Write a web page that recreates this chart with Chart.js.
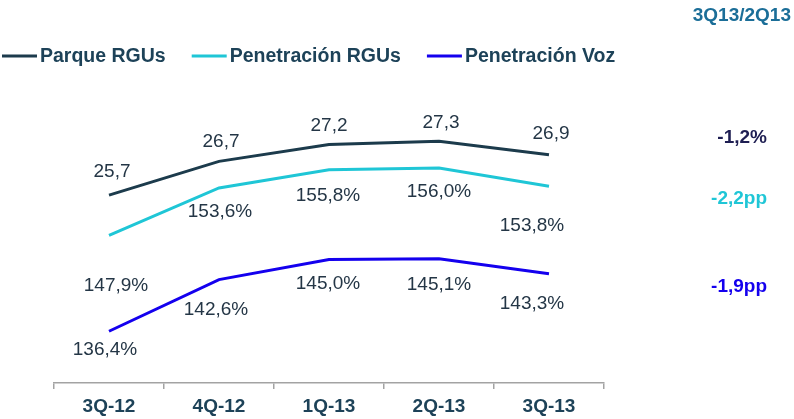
<!DOCTYPE html>
<html>
<head>
<meta charset="utf-8">
<script src="https://cdn.jsdelivr.net/npm/chart.js@4"></script>
<style>
  html, body { margin: 0; padding: 0; background: #ffffff; }
  #wrap { width: 794px; height: 419px; position: relative; }
</style>
</head>
<body>
<div id="wrap"><canvas id="c" width="794" height="419"></canvas></div>
<script>
// ---- data ----
const categories = ['3Q-12', '4Q-12', '1Q-13', '2Q-13', '3Q-13'];
const parqueRGUs = [25.7, 26.7, 27.2, 27.3, 26.9];
const penetracionRGUs = [147.9, 153.6, 155.8, 156.0, 153.8];
const penetracionVoz = [136.4, 142.6, 145.0, 145.1, 143.3];
const seriesNames = ['Parque RGUs', 'Penetración RGUs', 'Penetración Voz'];
const seriesSuffix = ['', '%', '%'];
const variationHeader = '3Q13/2Q13';
const variations = ['-1,2%', '-2,2pp', '-1,9pp'];

// ---- styles ----
const colors = ['#1c3b4c', '#1fc6d6', '#1400ee'];
const variationColors = ['#1e1e52', '#1fc6d6', '#1400ee'];
const textDark = '#243646';
const legendText = '#1d4258';
const FONT = '"Liberation Sans", Arial, sans-serif';
// label offsets (dx, dy) relative to each point
const labelOffsets = [
  [[3, -23], [2, -20], [0, -19], [2, -18], [2, -21]],
  [[7, 50], [1, 24], [-1, 26], [0, 24], [-17, 39]],
  [[-4, 19], [-3, 30], [-1, 24], [0, 26], [-17, 30]]
];
const variationY = [138, 199, 287];

const fmt = (v, s) => v.toFixed(1).replace('.', ',') + s;

const labelsPlugin = {
  id: 'labelsPlugin',
  afterDatasetsDraw(chart) {
    const ctx = chart.ctx;
    ctx.save();
    ctx.font = '19px ' + FONT;
    ctx.fillStyle = textDark;
    ctx.textAlign = 'center';
    ctx.textBaseline = 'middle';
    chart.data.datasets.forEach((ds, di) => {
      const meta = chart.getDatasetMeta(di);
      meta.data.forEach((pt, i) => {
        const o = labelOffsets[di][i];
        ctx.fillText(fmt(ds.data[i], seriesSuffix[di]), pt.x + o[0], pt.y + o[1]);
      });
    });
    ctx.restore();
  },
  afterDraw(chart) {
    const ctx = chart.ctx;
    ctx.save();
    // legend
    ctx.font = 'bold 19.5px ' + FONT;
    ctx.textBaseline = 'middle';
    ctx.textAlign = 'left';
    let x = 2;
    seriesNames.forEach((n, i) => {
      ctx.fillStyle = colors[i];
      ctx.fillRect(x, 54.5, 35, 3);
      ctx.fillStyle = legendText;
      ctx.fillText(n, x + 38, 57);
      x += 38 + ctx.measureText(n).width + 26;
    });
    // header & variations
    ctx.font = 'bold 19px ' + FONT;
    ctx.textAlign = 'right';
    ctx.fillStyle = '#1b6e98';
    ctx.fillText(variationHeader, 791, 16);
    variations.forEach((t, i) => {
      ctx.fillStyle = variationColors[i];
      ctx.fillText(t, 767, variationY[i]);
    });
    ctx.restore();
  }
};

new Chart(document.getElementById('c'), {
  type: 'line',
  data: {
    labels: categories,
    datasets: [
      { label: seriesNames[0], data: parqueRGUs, yAxisID: 'yP', borderColor: colors[0] },
      { label: seriesNames[1], data: penetracionRGUs, yAxisID: 'yR', borderColor: colors[1] },
      { label: seriesNames[2], data: penetracionVoz, yAxisID: 'yR', borderColor: colors[2] }
    ]
  },
  options: {
    responsive: false,
    animation: false,
    layout: { padding: { top: 100, left: 0, right: 0, bottom: 0 } },
    elements: {
      line: { borderWidth: 3, tension: 0, fill: false, borderCapStyle: 'butt' },
      point: { radius: 0, hoverRadius: 0 }
    },
    plugins: { legend: { display: false }, tooltip: { enabled: false } },
    scales: {
      x: {
        type: 'category',
        offset: true,
        grid: { display: true, drawOnChartArea: false, drawTicks: true, tickLength: 6, color: '#a3a3a3', lineWidth: 1.5, offset: true },
        border: { display: true, color: '#a3a3a3', width: 1.5 },
        ticks: { color: legendText, font: { family: FONT, size: 19, weight: 'bold' }, padding: 6, maxRotation: 0 },
        afterFit(s) { s.height = 36; }
      },
      yP: {
        position: 'left',
        min: 20.13, max: 28.52,
        grid: { display: false },
        border: { display: false },
        ticks: { display: false },
        afterFit(s) { s.width = 54; }
      },
      yR: {
        position: 'right',
        min: 130.19, max: 164.16,
        grid: { display: false },
        border: { display: false },
        ticks: { display: false },
        afterFit(s) { s.width = 190; }
      }
    }
  },
  plugins: [labelsPlugin]
});
</script>
</body>
</html>
